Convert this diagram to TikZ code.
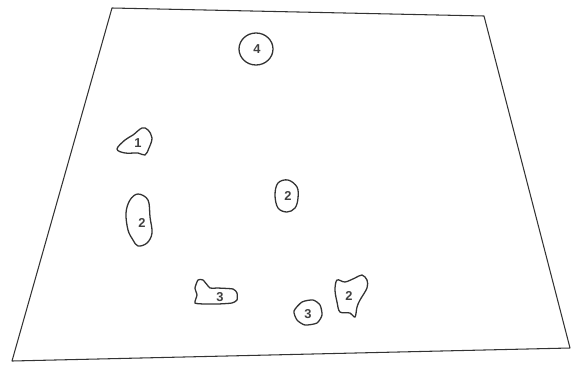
\documentclass[tikz,border=0pt]{standalone}
\usepackage{fontspec}
\setmainfont{Liberation Sans}
\begin{document}
\begin{tikzpicture}[x=0.03cm,y=-0.03cm,
  outline/.style={draw=black!80,line width=0.9pt,line join=round},
  blob/.style={draw=black!80,line width=1.1pt},
  num/.style={font=\fontsize{11}{11}\selectfont\bfseries,text=black!75,inner sep=0pt}]
\useasboundingbox (0,0) rectangle (573,365);
% field outline
\coordinate (tl) at (112,8);
\coordinate (tr) at (484,16);
\coordinate (br) at (570,348);
\coordinate (bl) at (12,361);
\draw[outline] (tl) -- (tr) -- (br) -- (bl) -- cycle;
% blob 4
\draw[blob] (256,49) ellipse [x radius=17, y radius=16];
\node[num] (n4) at (257,49) {4};
% blob 1
\draw[blob] plot[smooth cycle,tension=0.6] coordinates {(117,149) (125,153) (138,153) (145,155) (149,148) (152,138) (148,130) (142,128) (133,135) (125,140)};
\node[num] (n1) at (138,143) {1};
% blob 2 tall
\draw[blob] plot[smooth cycle,tension=0.6] coordinates {(138,194) (148,200) (150,217) (152,233) (147,243) (138,246) (133,240) (128,230) (126,213) (130,200)};
\node[num] (n2a) at (142,223) {2};
% blob 2 middle
\draw[blob] plot[smooth cycle,tension=0.6] coordinates {(278,183) (288,180) (297,187) (298,198) (295,208) (287,212) (278,208) (275,195)};
\node[num] (n2b) at (288,196) {2};
% blob 3 house
\draw[blob] plot[smooth cycle,tension=0.35] coordinates {(198,280) (203,280) (210,288) (217,288) (233,289) (237,293) (237,300) (232,303) (218,304) (205,304) (195,303) (197,295) (195,288)};
\node[num] (n3a) at (220,297) {3};
% blob 3 hexagon
\draw[blob] plot[smooth cycle,tension=0.4] coordinates {(294,311) (302,302) (313,300) (320,305) (322,315) (317,323) (305,325) (297,320)};
\node[num] (n3b) at (308,314) {3};
% blob 2 right
\draw[blob] plot[smooth cycle,tension=0.55] coordinates {(337,280) (345,282) (355,278) (362,275) (367,280) (367,288) (360,300) (357,307) (355,317) (350,313) (340,312) (337,302) (335,290)};
\node[num] (n2c) at (349,296) {2};
\end{tikzpicture}
\end{document}
